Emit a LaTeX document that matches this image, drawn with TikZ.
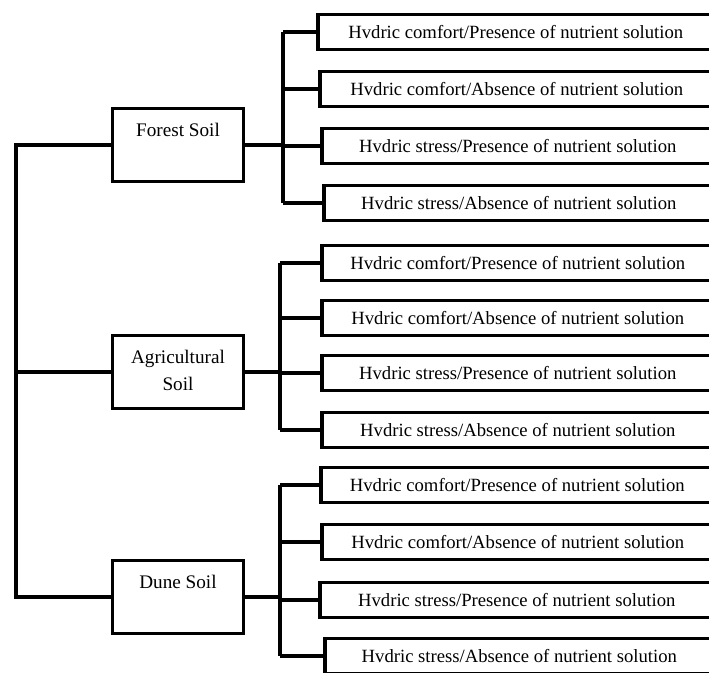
\documentclass[tikz,border=0pt]{standalone}
\usepackage{fontspec}
\setmainfont{Liberation Serif}

\tikzset{
  soilbox/.style={draw, line width=2.7pt, inner sep=0pt, minimum width=98pt, minimum height=55pt},
  leafbox/.style={draw, line width=2.7pt, inner sep=0pt, minimum height=26.5pt, anchor=west,
    font=\fontsize{14}{16}\selectfont},
  link/.style={line width=2.7pt}
}
\newcommand{\soillabel}[1]{\parbox[c][55pt][t]{98pt}{\centering\fontsize{14.4}{20}\selectfont\rule{0pt}{21pt}#1}}

\begin{document}
\begin{tikzpicture}[x=0.75pt, y=-0.75pt]
  \useasboundingbox (0,0) rectangle (709,673);
  \clip (0,0) rectangle (709,673);

  % soil boxes
  \node[soilbox] (forest) at (178,145) {\soillabel{Forest Soil}};
  \node[soilbox] (agri) at (178,372) {\soillabel{Agricultural\\Soil}};
  \node[soilbox] (dune) at (178,597) {\soillabel{Dune Soil}};

  % trunk and buses
  \coordinate (trunk) at (16,0);
  \coordinate (fbus) at (283,0);
  \coordinate (abus) at (280,0);
  \coordinate (dbus) at (280,0);

  % treatment boxes
  \foreach \name/\lx/\ly/\txt in {
      f1/316/32/{Hvdric comfort/Presence of nutrient solution},
      f2/318/89/{Hvdric comfort/Absence of nutrient solution},
      f3/320/146/{Hvdric stress/Presence of nutrient solution},
      f4/322/203/{Hvdric stress/Absence of nutrient solution},
      a1/320/263/{Hvdric comfort/Presence of nutrient solution},
      a2/320/318/{Hvdric comfort/Absence of nutrient solution},
      a3/320/373/{Hvdric stress/Presence of nutrient solution},
      a4/320/430/{Hvdric stress/Absence of nutrient solution},
      d1/319/485/{Hvdric comfort/Presence of nutrient solution},
      d2/320/542/{Hvdric comfort/Absence of nutrient solution},
      d3/318/600/{Hvdric stress/Presence of nutrient solution},
      d4/323/656/{Hvdric stress/Absence of nutrient solution}}
    \node[leafbox, minimum width={(712-\lx)*0.75pt}] (\name) at (\lx,\ly) {\txt};

  % trunk to soils
  \draw[link] (forest.west) -- (forest.west -| trunk) -- (dune.west -| trunk) -- (dune.west);
  \draw[link] (agri.west) -- (agri.west -| trunk);

  % forest branches
  \draw[link] (forest.east) -- (forest.east -| fbus);
  \draw[link] (f1.west -| fbus) -- (f4.west -| fbus);
  \foreach \i in {1,...,4}
    \draw[link] (f\i.west -| fbus) -- (f\i.west);

  % agricultural branches
  \draw[link] (agri.east) -- (agri.east -| abus);
  \draw[link] (a1.west -| abus) -- (a4.west -| abus);
  \foreach \i in {1,...,4}
    \draw[link] (a\i.west -| abus) -- (a\i.west);

  % dune branches
  \draw[link] (dune.east) -- (dune.east -| dbus);
  \draw[link] (d1.west -| dbus) -- (d4.west -| dbus);
  \foreach \i in {1,...,4}
    \draw[link] (d\i.west -| dbus) -- (d\i.west);
\end{tikzpicture}
\end{document}
